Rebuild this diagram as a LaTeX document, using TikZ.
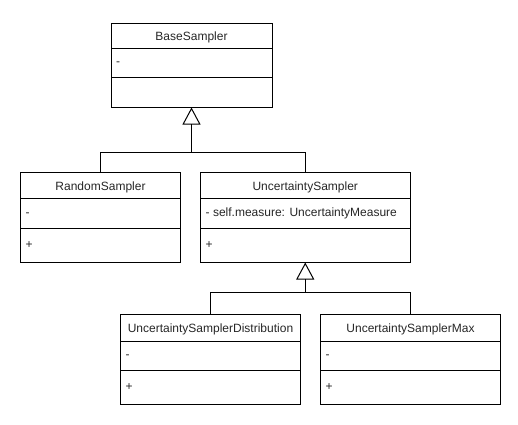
\documentclass[tikz,border=0pt]{standalone}
\usepackage{fontspec}
\setmainfont{Liberation Sans}
\usetikzlibrary{arrows.meta,fit}
\tikzset{
  cl/.style={line width=1pt, draw=black},
  classframe/.style={cl, inner sep=0pt, outer sep=0pt},
  txt/.style={inner sep=0pt, font=\fontsize{12pt}{14pt}\selectfont, text=black!85, text height=8.6pt, text depth=2.5pt},
  inherit/.style={cl, -{Triangle[open, length=17pt, width=18pt, line width=1pt]}}
}
% #1 name, #2 x1, #3 x2, #4 top, #5 header line, #6 attr line, #7 bottom, #8 title, #9 attribute
\newcommand\umlclass[9]{%
  \node[classframe, fit={(#2,#4) (#3,#7)}] (#1) {};
  \draw[cl] (#2,#5) -- (#3,#5);
  \draw[cl] (#2,#6) -- (#3,#6);
  \node[txt] (#1-title) at ({(#2+#3)/2},{(#4+#5)/2+1.5}) {#8};
  \node[txt, anchor=west] (#1-attr) at ({#2+5},{(#5+#6)/2}) {#9};
}
\begin{document}
\begin{tikzpicture}[x=1pt,y=-1pt]
\useasboundingbox (0,0) rectangle (518,424);
\umlclass{base}{111}{272}{23}{48}{77.5}{107.5}{BaseSampler}{-}
\umlclass{rand}{20.5}{180.5}{172.5}{198.5}{228}{262.5}{RandomSampler}{-}
\node[txt, anchor=west] (rand-meth) at (25.5,245.25) {+};
\umlclass{unc}{200.5}{410}{172.5}{198.5}{228}{262.5}{UncertaintySampler}{- self.measure: UncertaintyMeasure}
\node[txt, anchor=west] (unc-meth) at (205.5,245.25) {+};
\umlclass{dist}{120.5}{300.5}{314.5}{341}{370.5}{404.5}{UncertaintySamplerDistribution}{-}
\node[txt, anchor=west] (dist-meth) at (125.5,387.5) {+};
\umlclass{max}{320.5}{500.5}{314.5}{341}{370.5}{404.5}{UncertaintySamplerMax}{-}
\node[txt, anchor=west] (max-meth) at (325.5,387.5) {+};
% inheritance
\coordinate (j1) at (base.south |- 0,152.5);
\coordinate (j2) at (unc.south |- 0,292.5);
\draw[cl] (rand.north) |- (j1) -| (unc.north);
\draw[inherit] (j1) -- (base.south);
\draw[cl] (dist.north) |- (j2) -| (max.north);
\draw[inherit] (j2) -- (unc.south);
\end{tikzpicture}
\end{document}
